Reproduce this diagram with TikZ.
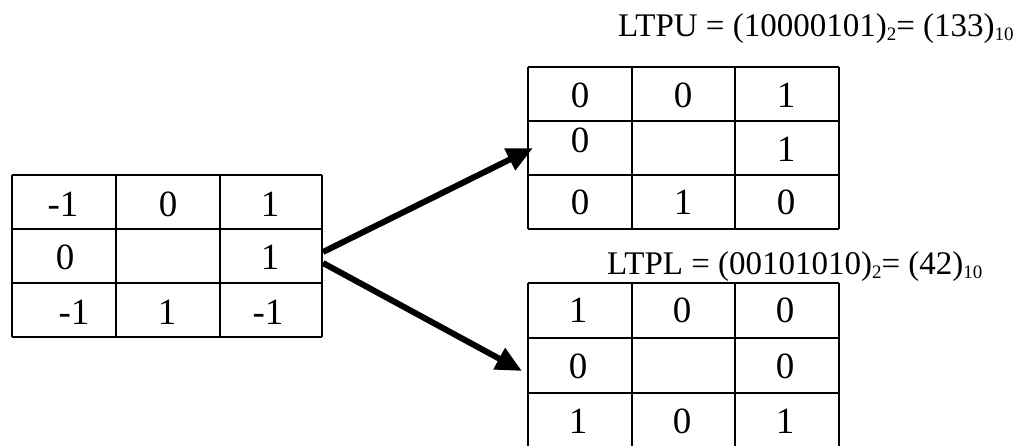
\documentclass[tikz,border=0pt]{standalone}
\usepackage{fontspec}
\setmainfont{Liberation Serif}
\usetikzlibrary{arrows.meta}
\newcommand{\subsc}[1]{\raisebox{-4pt}{\fontsize{19}{20}\selectfont #1}}
\begin{document}
\begin{tikzpicture}[x=1pt,y=-1pt,
  gridline/.style={line width=1.3pt},
  cell/.style={anchor=base,inner sep=0pt,font=\fontsize{37}{40}\selectfont},
  lbl/.style={anchor=base west,inner sep=0pt,font=\fontsize{33}{36}\selectfont},
  bigarrow/.style={line width=6pt,-{Triangle[length=26pt,width=23pt]}}]
\useasboundingbox (0,0) rectangle (1031,446);
% left grid
\foreach \x in {12,116,220,322} \draw[gridline] (\x,175) -- (\x,337);
\foreach \y in {175,229,283,337} \draw[gridline] (12,\y) -- (322,\y);
% upper right grid
\foreach \x in {528,632,735,839} \draw[gridline] (\x,67) -- (\x,229);
\foreach \y in {67,121,175,229} \draw[gridline] (528,\y) -- (839,\y);
% lower right grid
\foreach \x in {528,632,735,839} \draw[gridline] (\x,283) -- (\x,448);
\foreach \y in {283,338,393,448} \draw[gridline] (528,\y) -- (839,\y);
% left grid texts
\node[cell] (l11) at (63,217) {-1};
\node[cell] (l12) at (168,217) {0};
\node[cell] (l13) at (270,217) {1};
\node[cell] (l21) at (65,270) {0};
\node[cell] (l23) at (270,270) {1};
\node[cell] (l31) at (74,325) {-1};
\node[cell] (l32) at (167,325) {1};
\node[cell] (l33) at (268,325) {-1};
% upper right texts
\node[cell] (u11) at (580,108) {0};
\node[cell] (u12) at (683,108) {0};
\node[cell] (u13) at (786,108) {1};
\node[cell] (u21) at (580,153) {0};
\node[cell] (u23) at (786,162) {1};
\node[cell] (u31) at (580,215) {0};
\node[cell] (u32) at (683,215) {1};
\node[cell] (u33) at (786,215) {0};
% lower right texts
\node[cell] (d11) at (578,323) {1};
\node[cell] (d12) at (682,323) {0};
\node[cell] (d13) at (785,323) {0};
\node[cell] (d21) at (578,378) {0};
\node[cell] (d23) at (785,378) {0};
\node[cell] (d31) at (578,433) {1};
\node[cell] (d32) at (682,433) {0};
\node[cell] (d33) at (785,433) {1};
% labels
\node[lbl] (ltpu) at (618,37) {LTPU = (10000101)\subsc{2}= (133)\subsc{10}};
\node[lbl] (ltpl) at (607,275) {LTPL = (00101010)\subsc{2}= (42)\subsc{10}};
% arrows
\coordinate (src1) at (323,252);
\coordinate (src2) at (323,263);
\coordinate (dst1) at (533,148);
\coordinate (dst2) at (522,371);
\draw[bigarrow] (src1) -- (dst1);
\draw[bigarrow] (src2) -- (dst2);
\end{tikzpicture}
\end{document}
